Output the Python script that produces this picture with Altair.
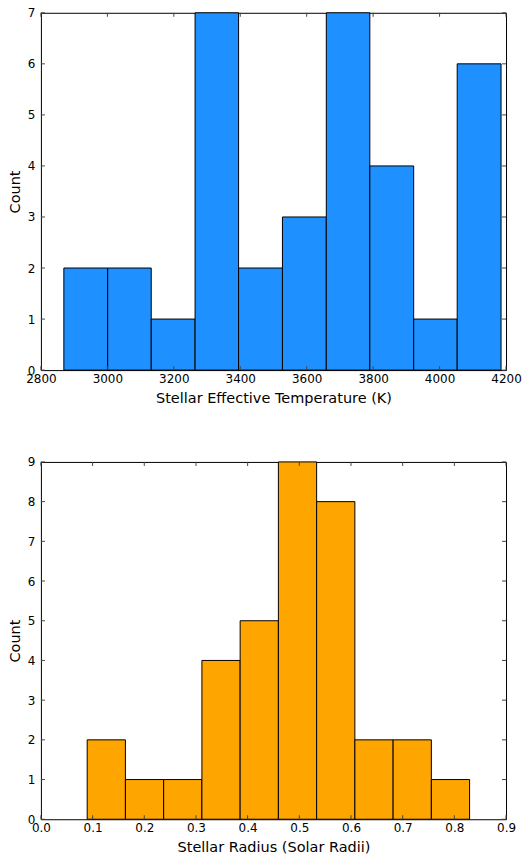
import altair as alt
import pandas as pd

# ---- data ----
temp_edges = [2869, 3001, 3132, 3264, 3395, 3527, 3659, 3790, 3922, 4053, 4185]
temp_counts = [2, 2, 1, 7, 2, 3, 7, 4, 1, 6]
temp_xticks = [2800, 3000, 3200, 3400, 3600, 3800, 4000, 4200]
temp_yticks = [0, 1, 2, 3, 4, 5, 6, 7]

radius_edges = [0.0895, 0.1635, 0.2375, 0.3115, 0.3855, 0.4595, 0.5335, 0.6075, 0.6815, 0.7555, 0.8295]
radius_counts = [2, 1, 1, 4, 5, 9, 8, 2, 2, 1]
radius_xticks = [0.0, 0.1, 0.2, 0.3, 0.4, 0.5, 0.6, 0.7, 0.8, 0.9]
radius_yticks = [0, 1, 2, 3, 4, 5, 6, 7, 8, 9]

W, H = 466, 358
TICK = 4
FONT = "DejaVu Sans"


def panel(edges, counts, color, xticks, yticks, xtitle, xfmt):
    bars = pd.DataFrame({"start": edges[:-1], "end": edges[1:], "count": counts,
                         "base": [0] * len(counts)})
    xt = pd.DataFrame({"start": xticks})
    yt = pd.DataFrame({"count": yticks})
    xscale = alt.Scale(domain=[xticks[0], xticks[-1]], nice=False, zero=False)
    yscale = alt.Scale(domain=[yticks[0], yticks[-1]], nice=False)
    xaxis = alt.Axis(values=xticks, title=xtitle, format=xfmt, labelFlush=False,
                     labelOverlap=False, labelPadding=3, titlePadding=7)
    yaxis = alt.Axis(values=yticks, title="Count", labelFlush=False,
                     labelOverlap=False, labelPadding=6, titlePadding=5)
    X = lambda f: alt.X(f, scale=xscale, axis=xaxis)
    Y = lambda f: alt.Y(f, scale=yscale, axis=yaxis)

    b = alt.Chart(bars).mark_bar(color=color, stroke="black", strokeWidth=1).encode(
        x=X("start:Q"), x2="end:Q", y=Y("count:Q"), y2="base:Q")
    xb = alt.Chart(xt).mark_rule(color="#444", strokeWidth=1).encode(
        x=X("start:Q"), y=alt.value(H - TICK), y2=alt.value(H))
    xtp = alt.Chart(xt).mark_rule(color="#444", strokeWidth=1).encode(
        x=X("start:Q"), y=alt.value(0), y2=alt.value(TICK))
    yl = alt.Chart(yt).mark_rule(color="#444", strokeWidth=1).encode(
        y=Y("count:Q"), x=alt.value(0), x2=alt.value(TICK))
    yr = alt.Chart(yt).mark_rule(color="#444", strokeWidth=1).encode(
        y=Y("count:Q"), x=alt.value(W - TICK), x2=alt.value(W))
    return alt.layer(b, xb, xtp, yl, yr).properties(width=W, height=H)


top = panel(temp_edges, temp_counts, "#1E90FF", temp_xticks, temp_yticks,
            "Stellar Effective Temperature (K)", "d")
bottom = panel(radius_edges, radius_counts, "#FFA500", radius_xticks, radius_yticks,
               "Stellar Radius (Solar Radii)", ".1f")

chart = alt.vconcat(top, bottom, spacing=50).properties(
    padding={"left": 6, "top": 5, "right": 0, "bottom": 0},
    background="white",
).configure_view(stroke="black", strokeWidth=1).configure_axis(
    domain=False, ticks=False, grid=False,
    labelFont=FONT, labelFontSize=12, labelColor="black",
    titleFont=FONT, titleFontSize=14.5, titleFontWeight="normal", titleColor="black",
)

chart.save("out.html", embed_options={"renderer": "svg", "actions": False})
